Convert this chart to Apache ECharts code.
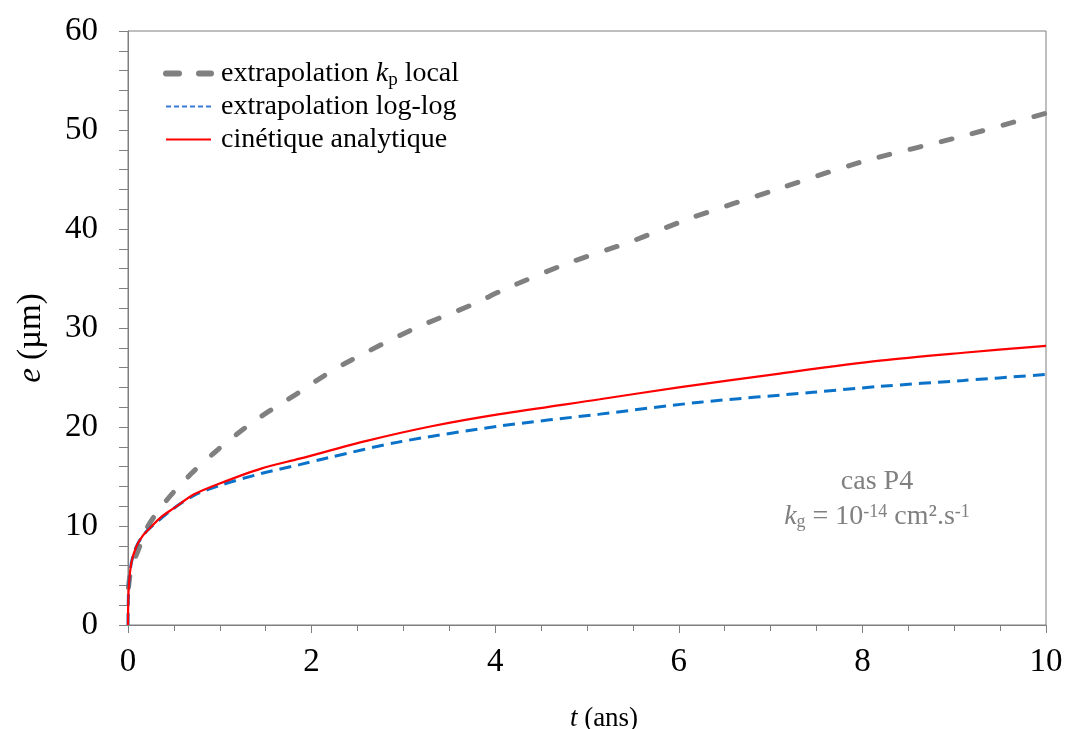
<!DOCTYPE html>
<html>
<head>
<meta charset="utf-8">
<script src="https://cdn.jsdelivr.net/npm/echarts@6/dist/echarts.min.js"></script>
<style>html,body{margin:0;padding:0;background:#fff}#c{width:1069px;height:729px}</style>
</head>
<body>
<div id="c"></div>
<script>
// t (ans) and e (µm)
const kpT = [0.005, 0.037, 0.109, 0.218, 0.43, 0.69, 0.94, 1.23, 1.52, 1.83, 2.14, 2.42, 3.11, 3.76, 4.1, 4.78, 5.5, 6.1, 7.1, 8.0, 9.06, 10];
const kpE = [3.8, 5.8, 7.5, 10.0, 12.7, 15.3, 17.4, 19.6, 21.5, 23.3, 25.2, 26.7, 29.9, 32.4, 33.9, 36.5, 38.8, 41.0, 44.1, 46.8, 49.3, 51.7];

const logT = [0, 0.003, 0.01, 0.037, 0.09, 0.16, 0.24, 0.5, 0.72, 1.0, 1.45, 1.87, 2.18, 2.96, 4.05, 5.14, 6.23, 7.46, 8.19, 9.1, 10];
const logE = [0, 2.5, 4.1, 6.3, 7.9, 9.0, 9.8, 11.8, 13.1, 14.1, 15.3, 16.2, 16.9, 18.5, 20.1, 21.3, 22.5, 23.5, 24.1, 24.7, 25.3];

const anaT = [0, 0.003, 0.01, 0.037, 0.09, 0.16, 0.24, 0.36, 0.5, 0.72, 1.0, 1.45, 1.87, 2.6, 3.32, 4.05, 5.14, 6.0, 7.1, 8.19, 9.1, 10];
const anaE = [0, 2.5, 4.1, 6.3, 7.9, 9.0, 9.8, 10.9, 11.8, 13.2, 14.3, 15.8, 16.8, 18.6, 20.1, 21.3, 22.8, 24.0, 25.4, 26.7, 27.5, 28.2];

const seriesNames = ['extrapolation kp local', 'extrapolation log-log', 'cinétique analytique'];
const xTicks = [0, 2, 4, 6, 8, 10];
const yTicks = [0, 10, 20, 30, 40, 50, 60];

function pairs(t, e) { return t.map((v, i) => [v, e[i]]); }

const serif = '"Liberation Serif", "DejaVu Serif", serif';
const axisGray = '#7f7f7f';
const gray = '#808080', blue = '#0a72c8', red = '#ff0000';

const chart = echarts.init(document.getElementById('c'), null, {renderer: 'canvas'});
chart.setOption({
  animation: false,
  backgroundColor: '#fff',
  grid: {left: 128, top: 31, width: 918, height: 594, show: true, borderColor: axisGray, borderWidth: 1,
    containLabel: false, outerBoundsMode: 'none'},
  legend: {
    left: 163, top: 57, padding: 0, orient: 'vertical', itemWidth: 45, itemHeight: 14, itemGap: 0,
    itemStyle: {opacity: 0},
    textStyle: {fontFamily: serif, fontSize: 28, color: '#000', lineHeight: 33, padding: [0, 0, 0, 5],
      rich: {
        it: {fontFamily: serif, fontSize: 28, fontStyle: 'italic', color: '#000'},
        sub: {fontFamily: serif, fontSize: 19, color: '#000', verticalAlign: 'bottom'}
      }},
    formatter: function (n) {
      if (n === seriesNames[0]) return 'extrapolation {it|k}{sub|p} local';
      return n;
    },
    data: [
      {name: seriesNames[0], itemStyle: {opacity: 0}, lineStyle: {color: gray, width: 6, type: [13, 20], dashOffset: 0, cap: 'round'}},
      {name: seriesNames[1], itemStyle: {opacity: 0}, lineStyle: {color: '#3a7bd5', width: 2, type: [5, 3]}},
      {name: seriesNames[2], itemStyle: {opacity: 0}, lineStyle: {color: red, width: 2, type: 'solid'}}
    ]
  },
  xAxis: {
    type: 'value', min: xTicks[0], max: xTicks[xTicks.length - 1], interval: 2,
    name: '{i|t} (ans)', nameLocation: 'middle', nameGap: 80,
    nameTextStyle: {fontFamily: serif, fontSize: 27, color: '#000', padding: [0, 0, 0, 34],
      rich: {i: {fontFamily: serif, fontSize: 27, fontStyle: 'italic', color: '#000'}}},
    axisLine: {lineStyle: {color: axisGray, width: 1}},
    axisTick: {show: true, inside: false, length: 8, lineStyle: {color: axisGray}},
    minorTick: {show: true, splitNumber: 4, length: 6, lineStyle: {color: axisGray}},
    axisLabel: {fontFamily: serif, fontSize: 33, color: '#000', margin: 21},
    splitLine: {show: false}
  },
  yAxis: {
    type: 'value', min: yTicks[0], max: yTicks[yTicks.length - 1], interval: 10,
    name: '{i|e} (µm)', nameLocation: 'middle', nameGap: 80, nameRotate: 90,
    nameTextStyle: {fontFamily: serif, fontSize: 33, color: '#000', padding: [0, 20, 0, 0],
      rich: {i: {fontFamily: serif, fontSize: 33, fontStyle: 'italic', color: '#000'}}},
    axisLine: {lineStyle: {color: axisGray, width: 1}},
    axisTick: {show: true, inside: false, length: 9, lineStyle: {color: axisGray}},
    minorTick: {show: true, splitNumber: 5, length: 9, lineStyle: {color: axisGray}},
    axisLabel: {fontFamily: serif, fontSize: 33, color: '#000', margin: 30},
    splitLine: {show: false}
  },
  series: [
    {name: seriesNames[0], type: 'line', data: pairs(kpT, kpE), showSymbol: false, symbol: 'none', smooth: 0.3,
      lineStyle: {color: gray, width: 5, type: [11, 21], cap: 'round'}, itemStyle: {color: gray}, z: 2},
    {name: seriesNames[1], type: 'line', data: pairs(logT, logE), showSymbol: false, symbol: 'none', smooth: 0.3,
      lineStyle: {color: blue, width: 3, type: [12, 7]}, itemStyle: {color: blue}, z: 3},
    {name: seriesNames[2], type: 'line', data: pairs(anaT, anaE), showSymbol: false, symbol: 'none', smooth: 0.3,
      lineStyle: {color: red, width: 2.2}, itemStyle: {color: red}, z: 4}
  ],
  graphic: [
    {type: 'text', x: 877, y: 482, style: {text: 'cas P4', fontFamily: serif, fontSize: 28, fill: gray, align: 'center', verticalAlign: 'middle'}},
    {type: 'text', x: 877, y: 517, style: {
      text: '{it|k}{sub|g} = 10{sup|-14} cm².s{sup|-1}', fontFamily: serif, fontSize: 28, fill: gray, align: 'center', verticalAlign: 'middle',
      rich: {
        it: {fontFamily: serif, fontSize: 28, fontStyle: 'italic', fill: gray},
        sub: {fontFamily: serif, fontSize: 18, fill: gray, verticalAlign: 'bottom'},
        sup: {fontFamily: serif, fontSize: 18, fill: gray, verticalAlign: 'top'}
      }}}
  ]
});
</script>
</body>
</html>
